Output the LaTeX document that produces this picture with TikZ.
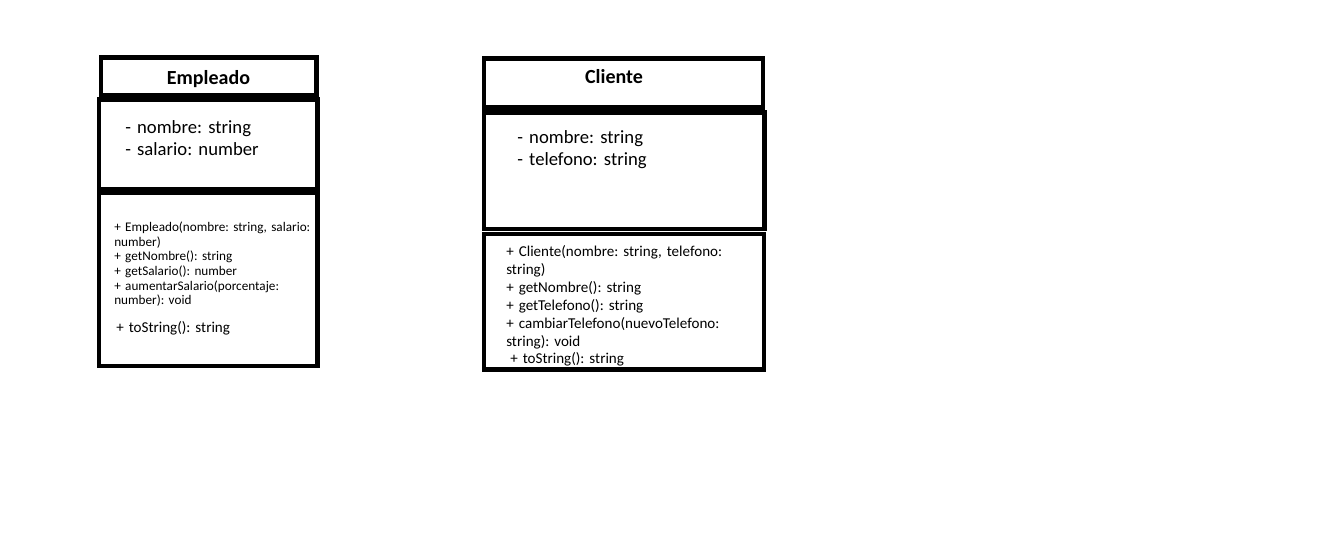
\documentclass[tikz,border=0pt]{standalone}
\usepackage{fontspec}
\setmainfont{Carlito}
\frenchspacing

\begin{document}
\begin{tikzpicture}[x=0.75pt,y=-0.75pt,
	box/.style={line width=3.7pt},
	classname/.style={anchor=base,inner sep=0pt,font=\bfseries\fontsize{15}{18}\selectfont},
	attrs/.style={anchor=base west,inner sep=0pt,align=left,text width=200pt,font=\fontsize{14}{16.8}\selectfont},
	opsmall/.style={anchor=base west,inner sep=0pt,align=left,text width=200pt,font=\fontsize{9.9}{11}\selectfont},
	opbig/.style={anchor=base west,inner sep=0pt,align=left,text width=220pt,font=\fontsize{11.3}{13.5}\selectfont}]
	\useasboundingbox (0,0) rectangle (1342,552);
	% Empleado
	\draw[box] (101,57.5) rectangle (316.5,95.5);
	\draw[box] (99,99.5) rectangle (317.5,189.5);
	\draw[box] (99,192.5) rectangle (317.5,366);
	\node[classname] (empleado) at (208.5,84.5) {Empleado};
	\node[attrs] (empleado-attr) at (125,133.3) {- nombre: string\\- salario: number};
	\node[opsmall] (empleado-ops) at (114,231.5) {+ Empleado(nombre: string, salario:\\number)\\+ getNombre(): string\\+ getSalario(): number\\+ aumentarSalario(porcentaje:\\number): void};
	\node[opbig] (empleado-tostring) at (116,332) {+ toString(): string};
	% Cliente
	\draw[box] (484,58.5) rectangle (763,107.5);
	\draw[box] (484,112.5) rectangle (764.5,229);
	\draw[box] (484,234) rectangle (764,369.5);
	\node[classname] (cliente) at (614,84) {Cliente};
	\node[attrs] (cliente-attr) at (517,143.5) {- nombre: string\\- telefono: string};
	\node[opbig] (cliente-ops) at (506,257) {+ Cliente(nombre: string, telefono:\\string)\\+ getNombre(): string\\+ getTelefono(): string\\+ cambiarTelefono(nuevoTelefono:\\string): void};
	\node[opbig] (cliente-tostring) at (510,363) {+ toString(): string};
\end{tikzpicture}
\end{document}
